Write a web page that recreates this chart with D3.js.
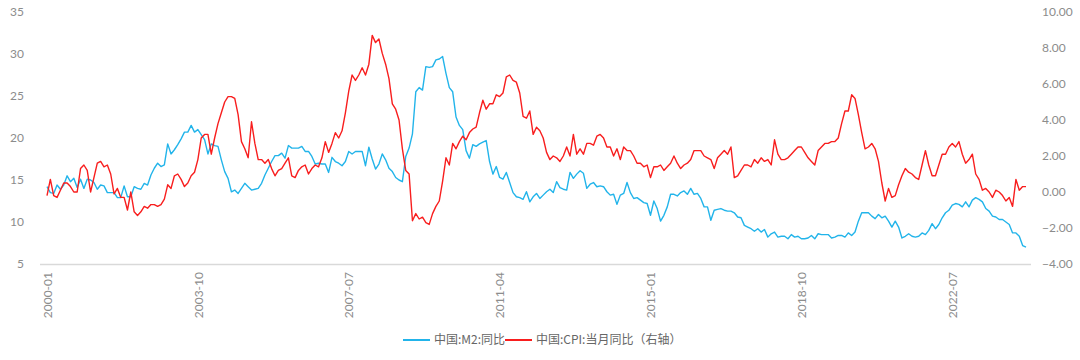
<!DOCTYPE html>
<html>
<head>
<meta charset="utf-8">
<script src="https://cdn.jsdelivr.net/npm/d3@7"></script>
<style>
  html, body { margin: 0; padding: 0; background: #fff; }
  svg { display: block; font-family: "Noto Sans CJK SC", "Noto Sans", sans-serif; }
</style>
</head>
<body>
<svg id="chart" width="1080" height="360"></svg>
<script>
const startYear = 2000, endYear = 2024, endMonth = 5;
const months = [];
for (let y = startYear; y <= endYear; y++) {
  for (let m = 1; m <= 12; m++) {
    if (y === endYear && m > endMonth) break;
    months.push(y + "-" + String(m).padStart(2, "0"));
  }
}
const xTickLabels = ["2000-01", "2003-10", "2007-07", "2011-04", "2015-01", "2018-10", "2022-07"];
const leftTicks = [5, 10, 15, 20, 25, 30, 35];
const rightTicks = [-4, -2, 0, 2, 4, 6, 8, 10];
const seriesNames = ["中国:M2:同比", "中国:CPI:当月同比（右轴）"];

const m2 = [
  14.2, 13.5, 13.4, 14.4, 13.9, 14.4, 15.5, 14.8, 15.2, 14.1, 15.1, 14.0,
  15.1, 15.0, 14.7, 13.9, 14.4, 14.3, 13.5, 13.5, 13.5, 12.9, 12.9, 14.3,
  13.0, 13.0, 14.2, 14.0, 13.9, 14.6, 14.4, 15.6, 16.4, 17.0, 16.6, 16.8,
  19.3, 18.1, 18.6, 19.2, 19.9, 20.7, 20.7, 21.5, 20.7, 21.0, 20.4, 19.8,
  18.1, 19.3, 19.1, 19.0, 17.4, 16.0, 15.2, 13.6, 13.8, 13.4, 14.0, 14.6,
  14.2, 13.8, 13.9, 14.0, 14.6, 15.6, 16.4, 17.2, 17.9, 17.9, 18.2, 17.6,
  19.1, 18.8, 18.8, 18.8, 19.0, 18.4, 18.4, 17.8, 16.9, 17.0, 16.9, 16.9,
  15.9, 17.7, 17.2, 17.0, 16.7, 17.2, 18.4, 18.1, 18.4, 18.4, 18.4, 16.7,
  18.9, 17.5, 16.3, 16.9, 18.1, 17.4, 16.4, 16.0, 15.3, 15.0, 14.8, 17.8,
  18.8, 20.5, 25.5, 26.0, 25.7, 28.5, 28.4, 28.5, 29.3, 29.4, 29.7, 27.7,
  26.0, 25.5, 22.5, 21.5, 21.0, 18.5, 17.6, 19.2, 19.0, 19.3, 19.5, 19.7,
  17.2, 15.7, 16.6, 15.3, 15.1, 15.9, 14.7, 13.5, 13.0, 12.9, 12.7, 13.6,
  12.4, 13.0, 13.4, 12.8, 13.2, 13.6, 13.9, 13.5, 14.8, 14.1, 13.9, 13.8,
  15.9, 15.2, 15.7, 16.1, 15.8, 14.0, 14.5, 14.7, 14.2, 14.3, 14.2, 13.6,
  13.2, 13.3, 12.1, 13.2, 13.4, 14.7, 13.5, 12.8, 12.9, 12.6, 12.3, 12.2,
  10.8, 12.5, 11.6, 10.1, 10.8, 11.8, 13.3, 13.3, 13.1, 13.5, 13.7, 13.3,
  14.0, 13.3, 13.4, 12.8, 11.8, 11.8, 10.2, 11.4, 11.5, 11.6, 11.4, 11.3,
  11.3, 11.1, 10.6, 10.5, 9.6, 9.4, 9.2, 8.9, 9.2, 8.8, 9.1, 8.2,
  8.6, 8.8, 8.2, 8.3, 8.3, 8.0, 8.5, 8.2, 8.3, 8.0, 8.0, 8.1,
  8.4, 8.0, 8.6, 8.5, 8.5, 8.5, 8.1, 8.2, 8.4, 8.4, 8.2, 8.7,
  8.4, 8.8, 10.1, 11.1, 11.1, 11.1, 10.7, 10.4, 10.9, 10.5, 10.7, 10.1,
  9.4, 10.1, 9.4, 8.1, 8.3, 8.6, 8.3, 8.2, 8.3, 8.7, 8.5, 9.0,
  9.8, 9.2, 9.7, 10.5, 11.1, 11.4, 12.0, 12.2, 12.1, 11.8, 12.4, 11.8,
  12.6, 12.9, 12.7, 12.4, 11.6, 11.3, 10.7, 10.6, 10.3, 10.3, 10.0, 9.7,
  8.7, 8.7, 8.3, 7.2, 7.0
];

const cpi = [
  -0.2, 0.7, -0.2, -0.3, 0.1, 0.5, 0.5, 0.3, 0.0, 0.0, 1.3, 1.5,
  1.2, 0.0, 0.8, 1.6, 1.7, 1.4, 1.5, 1.0, -0.1, 0.2, -0.3, -0.3,
  -1.0, 0.0, -1.1, -1.3, -1.1, -0.8, -0.9, -0.7, -0.7, -0.8, -0.7, -0.4,
  0.4, 0.2, 0.9, 1.0, 0.7, 0.3, 0.5, 0.9, 1.1, 1.8, 3.0, 3.2,
  3.2, 2.1, 3.0, 3.8, 4.4, 5.0, 5.3, 5.3, 5.2, 4.3, 2.8, 2.4,
  1.9, 3.9, 2.7, 1.8, 1.8, 1.6, 1.8, 1.3, 0.9, 1.2, 1.3, 1.6,
  1.9, 0.9, 0.8, 1.2, 1.4, 1.5, 1.0, 1.3, 1.5, 1.4, 1.9, 2.8,
  2.2, 2.7, 3.3, 3.0, 3.4, 4.4, 5.6, 6.5, 6.2, 6.5, 6.9, 6.5,
  7.1, 8.7, 8.3, 8.5, 7.7, 7.1, 6.3, 4.9, 4.6, 4.0, 2.4, 1.2,
  1.0, -1.6, -1.2, -1.5, -1.4, -1.7, -1.8, -1.2, -0.8, -0.5, 0.6, 1.9,
  1.5, 2.7, 2.4, 2.8, 3.1, 2.9, 3.3, 3.5, 3.6, 4.4, 5.1, 4.6,
  4.9, 4.9, 5.4, 5.3, 5.5, 6.4, 6.5, 6.2, 6.1, 5.5, 4.2, 4.1,
  4.5, 3.2, 3.6, 3.4, 3.0, 2.2, 1.8, 2.0, 1.9, 1.7, 2.0, 2.5,
  2.0, 3.2, 2.1, 2.4, 2.1, 2.7, 2.7, 2.6, 3.1, 3.2, 3.0, 2.5,
  2.5, 2.0, 2.4, 1.8, 2.5, 2.3, 2.3, 2.0, 1.6, 1.6, 1.4, 1.5,
  0.8, 1.4, 1.4, 1.5, 1.2, 1.4, 1.6, 2.0, 1.6, 1.3, 1.5, 1.6,
  1.8, 2.3, 2.3, 2.3, 2.0, 1.9, 1.8, 1.3, 1.9, 2.1, 2.3, 2.1,
  2.5, 0.8, 0.9, 1.2, 1.5, 1.5, 1.4, 1.8, 1.6, 1.9, 1.7, 1.8,
  1.5, 2.9, 2.1, 1.8, 1.8, 1.9, 2.1, 2.3, 2.5, 2.5, 2.2, 1.9,
  1.7, 1.5, 2.3, 2.5, 2.7, 2.7, 2.8, 2.8, 3.0, 3.8, 4.5, 4.5,
  5.4, 5.2, 4.3, 3.3, 2.4, 2.5, 2.7, 2.4, 1.7, 0.5, -0.5, 0.2,
  -0.3, -0.2, 0.4, 0.9, 1.3, 1.1, 1.0, 0.8, 0.7, 1.5, 2.3, 1.5,
  0.9, 0.9, 1.5, 2.1, 2.1, 2.5, 2.7, 2.5, 2.8, 2.1, 1.6, 1.8,
  2.1, 1.0, 0.7, 0.1, 0.2, 0.0, -0.3, 0.1, 0.0, -0.2, -0.5, -0.3,
  -0.8, 0.7, 0.1, 0.3, 0.3
];

const svg = d3.select("#chart");
const colors = ["#22b4ea", "#f81e1e"];
const plotTop = 12, plotBottom = 264;

const x = d3.scalePoint().domain(months).range([47, 1026]);
const yL = d3.scaleLinear().domain([5, 35]).range([plotBottom, plotTop]);
const yR = d3.scaleLinear().domain([-4, 10]).range([plotBottom, plotTop]);

// baseline
svg.append("line")
  .attr("x1", 40).attr("x2", 1031)
  .attr("y1", plotBottom + 0.5).attr("y2", plotBottom + 0.5)
  .attr("stroke", "#d9d9d9").attr("stroke-width", 1.5);

// left axis
const gL = svg.append("g").attr("transform", "translate(26,0)")
  .call(d3.axisLeft(yL).tickValues(leftTicks).tickSize(0).tickPadding(2));
gL.select(".domain").remove();
gL.selectAll("text").attr("fill", "#8c8c8c").style("font-size", "12px")
  .style("font-family", "Lato, 'Noto Sans', sans-serif");

// right axis
const gR = svg.append("g").attr("transform", "translate(1040,0)")
  .call(d3.axisRight(yR).tickValues(rightTicks).tickSize(0).tickPadding(2).tickFormat(d3.format(".2f")));
gR.select(".domain").remove();
gR.selectAll("text").attr("fill", "#8c8c8c").style("font-size", "12px")
  .style("font-family", "Lato, 'Noto Sans', sans-serif");

// x axis
const gX = svg.append("g").attr("transform", `translate(0,${plotBottom})`)
  .call(d3.axisBottom(x).tickValues(xTickLabels).tickSize(0).tickPadding(0));
gX.select(".domain").remove();
gX.selectAll("text")
  .attr("fill", "#8c8c8c").style("font-size", "12px")
  .style("font-family", "Lato, 'Noto Sans', sans-serif")
  .attr("text-anchor", "end")
  .attr("dy", "0.35em")
  .attr("transform", "translate(0,8) rotate(-90)")
  .attr("x", 0).attr("y", 0);

// lines
const lineL = d3.line().x((d, i) => x(months[i])).y(d => yL(d));
const lineR = d3.line().x((d, i) => x(months[i])).y(d => yR(d));

svg.append("path").datum(m2)
  .attr("fill", "none").attr("stroke", colors[0]).attr("stroke-width", 1.4)
  .attr("stroke-linejoin", "round").attr("d", lineL);
svg.append("path").datum(cpi)
  .attr("fill", "none").attr("stroke", colors[1]).attr("stroke-width", 1.4)
  .attr("stroke-linejoin", "round").attr("d", lineR);

// legend
const legend = svg.append("g").attr("transform", "translate(0,340)");
const legendX = [403, 505];
seriesNames.forEach((name, i) => {
  const g = legend.append("g").attr("transform", `translate(${legendX[i]},0)`);
  g.append("line").attr("x1", 0).attr("x2", 27).attr("y1", 0).attr("y2", 0)
    .attr("stroke", colors[i]).attr("stroke-width", 2);
  g.append("text").attr("x", 31).attr("y", 0).attr("dy", "0.35em")
    .attr("fill", "#666").style("font-size", "12px").text(name);
});
</script>
</body>
</html>
